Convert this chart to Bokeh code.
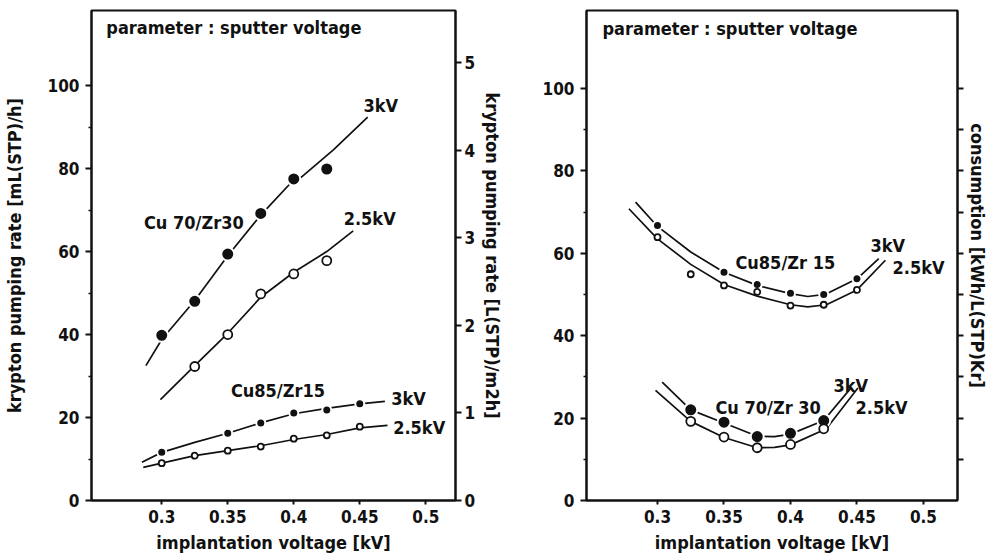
from bokeh.plotting import figure
from bokeh.models import Range1d, LinearAxis, FixedTicker
from bokeh.layouts import row
from bokeh.embed import file_html
from bokeh.resources import INLINE
from bokeh.core.properties import value

# ---------------- data ----------------
x_ticks = [0.3, 0.35, 0.4, 0.45, 0.5]
x_tick_labels = ["0.3", "0.35", "0.4", "0.45", "0.5"]
y_ticks = [0, 20, 40, 60, 80, 100]
y_minor = [10, 30, 50, 70, 90]
right_ticks_left_panel = [0, 1, 2, 3, 4, 5]
right_ticks_right_panel = [10, 20, 30, 40, 50, 60, 70, 80, 90, 100]

# left panel: krypton pumping rate [mL(STP)/h]
cu70_3kv_x = [0.3, 0.325, 0.35, 0.375, 0.4, 0.425]
cu70_3kv_y = [39.8, 48.0, 59.4, 69.2, 77.5, 79.9]
cu70_25kv_x = [0.325, 0.35, 0.375, 0.4, 0.425]
cu70_25kv_y = [32.3, 40.0, 49.8, 54.6, 57.8]
cu85_3kv_x = [0.3, 0.35, 0.375, 0.4, 0.425, 0.45]
cu85_3kv_y = [11.6, 16.2, 18.7, 21.1, 21.8, 23.3]
cu85_25kv_x = [0.3, 0.325, 0.35, 0.375, 0.4, 0.425, 0.45]
cu85_25kv_y = [9.0, 10.8, 12.0, 13.0, 14.9, 15.7, 17.8]

cu70_3kv_fit_x = [0.288, 0.3, 0.325, 0.35, 0.375, 0.4, 0.406, 0.43, 0.456]
cu70_3kv_fit_y = [32.5, 38.8, 48.2, 59.0, 68.8, 77.3, 78.0, 84.5, 92.4]
cu70_25kv_fit_x = [0.299, 0.325, 0.35, 0.375, 0.4, 0.425, 0.445]
cu70_25kv_fit_y = [24.3, 32.5, 40.3, 49.0, 55.0, 60.0, 65.0]
cu85_3kv_fit_x = [0.285, 0.3, 0.325, 0.35, 0.375, 0.4, 0.425, 0.45, 0.469]
cu85_3kv_fit_y = [9.2, 11.6, 14.0, 16.2, 18.7, 20.9, 22.2, 23.3, 23.9]
cu85_25kv_fit_x = [0.286, 0.3, 0.325, 0.35, 0.375, 0.4, 0.425, 0.45, 0.471]
cu85_25kv_fit_y = [8.0, 9.0, 10.8, 12.0, 13.2, 14.7, 15.9, 17.5, 18.1]

# right panel: consumption [kWh/L(STP)Kr]
r_cu85_3kv_x = [0.3, 0.35, 0.375, 0.4, 0.425, 0.45]
r_cu85_3kv_y = [66.7, 55.4, 52.4, 50.3, 50.0, 53.8]
r_cu85_25kv_x = [0.3, 0.325, 0.35, 0.375, 0.4, 0.425, 0.45]
r_cu85_25kv_y = [63.9, 54.9, 52.2, 50.6, 47.3, 47.5, 51.1]
r_cu70_3kv_x = [0.325, 0.35, 0.375, 0.4, 0.425]
r_cu70_3kv_y = [22.0, 19.0, 15.5, 16.3, 19.4]
r_cu70_25kv_x = [0.325, 0.35, 0.375, 0.4, 0.425]
r_cu70_25kv_y = [19.2, 15.4, 12.8, 13.6, 17.4]

r_cu85_3kv_fit_x = [0.2835, 0.3, 0.325, 0.35, 0.375, 0.4, 0.413, 0.426, 0.45, 0.4664]
r_cu85_3kv_fit_y = [72.4, 66.5, 60.3, 55.4, 52.2, 50.2, 49.5, 50.0, 53.8, 58.7]
r_cu85_25kv_fit_x = [0.2785, 0.3, 0.325, 0.35, 0.375, 0.4, 0.413, 0.427, 0.45, 0.4714]
r_cu85_25kv_fit_y = [70.8, 63.5, 57.3, 52.4, 49.6, 47.5, 47.0, 47.5, 51.1, 58.3]
r_cu70_3kv_fit_x = [0.3035, 0.325, 0.35, 0.375, 0.388, 0.4, 0.425, 0.446]
r_cu70_3kv_fit_y = [28.7, 22.0, 18.8, 15.6, 15.5, 16.1, 19.4, 27.5]
r_cu70_25kv_fit_x = [0.2985, 0.325, 0.35, 0.375, 0.388, 0.4, 0.427, 0.4507]
r_cu70_25kv_fit_y = [26.7, 19.2, 15.3, 12.8, 12.9, 13.5, 17.4, 27.3]

# ---------------- styling ----------------
FONT = "DejaVu Sans Condensed"
FS_TICK = "17px"
FS = "18px"
INK = "#111111"


def style_axis(ax):
    ax.axis_line_color = INK
    ax.axis_line_width = 2
    ax.major_tick_line_color = INK
    ax.major_tick_line_width = 2
    ax.minor_tick_line_color = INK
    ax.minor_tick_line_width = 1.5
    ax.major_label_text_font = FONT
    ax.major_label_text_font_style = "bold"
    ax.major_label_text_font_size = FS_TICK
    ax.major_label_text_color = INK
    ax.axis_label_text_font = FONT
    ax.axis_label_text_font_style = "bold"
    ax.axis_label_text_font_size = FS
    ax.axis_label_text_color = INK


def make_fig(width, xr, yr, mbl, mbr):
    p = figure(width=width, height=556, x_range=Range1d(*xr), y_range=Range1d(*yr),
               output_backend="svg", toolbar_location=None,
               min_border_left=mbl, min_border_right=mbr,
               min_border_top=10, min_border_bottom=56)
    p.grid.visible = False
    p.outline_line_color = INK
    p.outline_line_width = 2
    p.outline_line_alpha = 1
    p.background_fill_color = "white"
    p.border_fill_color = "white"
    xa = p.xaxis[0]
    xa.ticker = FixedTicker(ticks=x_ticks, minor_ticks=[])
    xa.major_label_overrides = dict(zip(x_ticks, x_tick_labels))
    xa.major_tick_in = 0
    xa.major_tick_out = 4
    xa.major_label_standoff = 5
    xa.axis_label = "implantation voltage [kV]"
    xa.axis_label_standoff = 6
    style_axis(xa)
    ya = p.yaxis[0]
    ya.ticker = FixedTicker(ticks=y_ticks, minor_ticks=y_minor)
    ya.major_tick_in = 0
    ya.major_tick_out = 6
    ya.minor_tick_in = 0
    ya.minor_tick_out = 3
    ya.major_label_standoff = 6
    style_axis(ya)
    return p


def curve(p, x, y):
    p.line(x, y, line_color=INK, line_width=1.7)


def dots(p, x, y, filled, size):
    if filled:
        p.scatter(x, y, marker="circle", size=size + 3, fill_color=INK,
                  line_color="white", line_width=2)
    else:
        p.scatter(x, y, marker="circle", size=size, fill_color="white",
                  line_color=INK, line_width=1.8)


def label(p, x, y, txt):
    p.text([x], [y], text=[txt], text_font=value(FONT), text_font_style="bold",
           text_font_size=FS, text_color=INK, text_align="left",
           text_baseline="middle")


# ---------------- left panel ----------------
p1 = make_fig(507, (0.2468, 0.5225), (0, 118.1), 87, 52)
p1.yaxis[0].axis_label = "krypton pumping rate [mL(STP)/h]"
p1.yaxis[0].axis_label_standoff = 20
p1.extra_y_ranges = {"area": Range1d(0, 118.1 / 21.09)}
ra = LinearAxis(y_range_name="area", ticker=FixedTicker(ticks=right_ticks_left_panel, minor_ticks=[]),
                axis_label="krypton pumping rate [L(STP)/m2h]")
ra.major_tick_in = 0
ra.major_tick_out = 6
ra.major_label_standoff = 3
ra.axis_label_standoff = 4
style_axis(ra)
p1.add_layout(ra, "right")

curve(p1, cu70_3kv_fit_x, cu70_3kv_fit_y)
curve(p1, cu70_25kv_fit_x, cu70_25kv_fit_y)
curve(p1, cu85_3kv_fit_x, cu85_3kv_fit_y)
curve(p1, cu85_25kv_fit_x, cu85_25kv_fit_y)
dots(p1, cu70_3kv_x, cu70_3kv_y, True, 10)
dots(p1, cu70_25kv_x, cu70_25kv_y, False, 9)
dots(p1, cu85_3kv_x, cu85_3kv_y, True, 6)
dots(p1, cu85_25kv_x, cu85_25kv_y, False, 6)

label(p1, 0.258, 114.0, "parameter : sputter voltage")
label(p1, 0.4528, 95.2, "3kV")
label(p1, 0.4378, 67.9, "2.5kV")
label(p1, 0.2865, 67.0, "Cu 70/Zr30")
label(p1, 0.3524, 26.5, "Cu85/Zr15")
label(p1, 0.4738, 24.6, "3kV")
label(p1, 0.4753, 17.6, "2.5kV")

# ---------------- right panel ----------------
p2 = make_fig(487, (0.2466, 0.5256), (0, 118.9), 79, 37)
rb = LinearAxis(ticker=FixedTicker(ticks=right_ticks_right_panel, minor_ticks=[]),
                axis_label="consumption [kWh/L(STP)Kr]")
rb.major_label_overrides = {t: "" for t in right_ticks_right_panel}
rb.major_tick_in = 0
rb.major_tick_out = 6
rb.major_label_standoff = 0
rb.axis_label_standoff = 3
style_axis(rb)
p2.add_layout(rb, "right")

curve(p2, r_cu85_3kv_fit_x, r_cu85_3kv_fit_y)
curve(p2, r_cu85_25kv_fit_x, r_cu85_25kv_fit_y)
curve(p2, r_cu70_3kv_fit_x, r_cu70_3kv_fit_y)
curve(p2, r_cu70_25kv_fit_x, r_cu70_25kv_fit_y)
dots(p2, r_cu85_3kv_x, r_cu85_3kv_y, True, 6)
dots(p2, r_cu85_25kv_x, r_cu85_25kv_y, False, 6)
dots(p2, r_cu70_3kv_x, r_cu70_3kv_y, True, 10)
dots(p2, r_cu70_25kv_x, r_cu70_25kv_y, False, 9)

label(p2, 0.2586, 114.6, "parameter : sputter voltage")
label(p2, 0.3586, 57.8, "Cu85/Zr 15")
label(p2, 0.4602, 61.9, "3kV")
label(p2, 0.4767, 56.6, "2.5kV")
label(p2, 0.3436, 22.6, "Cu 70/Zr 30")
label(p2, 0.4323, 27.9, "3kV")
label(p2, 0.4489, 22.6, "2.5kV")

layout = row(p1, p2)
open("out.html", "w").write(file_html(layout, INLINE))
